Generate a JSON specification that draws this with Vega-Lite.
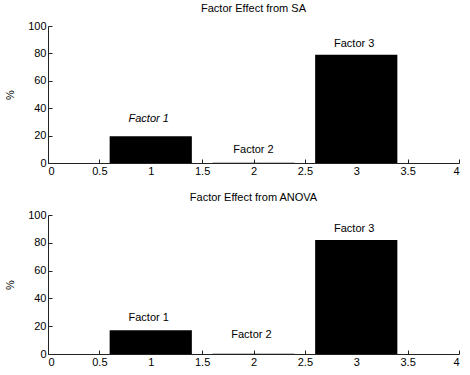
{
  "$schema": "https://vega.github.io/schema/vega-lite/v6.json",
  "padding": {"left": 4, "top": 3, "right": 5, "bottom": 5},
  "background": "white",
  "datasets": {
    "sa": [
      {"factor": "Factor 1", "x0": 0.6, "x1": 1.4, "pct": 19.5, "lx": 0.98, "ly": 32},
      {"factor": "Factor 2", "x0": 1.6, "x1": 2.4, "pct": 0.2, "lx": 2.0, "ly": 9.5},
      {"factor": "Factor 3", "x0": 2.6, "x1": 3.4, "pct": 79, "lx": 2.98, "ly": 87}
    ],
    "anova": [
      {"factor": "Factor 1", "x0": 0.6, "x1": 1.4, "pct": 17, "lx": 0.98, "ly": 26},
      {"factor": "Factor 2", "x0": 1.6, "x1": 2.4, "pct": 0.2, "lx": 1.98, "ly": 14},
      {"factor": "Factor 3", "x0": 2.6, "x1": 3.4, "pct": 82, "lx": 2.98, "ly": 90}
    ]
  },
  "config": {
    "font": "Liberation Sans",
    "view": {"stroke": null},
    "axis": {
      "domainColor": "#222",
      "tickColor": "#222",
      "labelColor": "#000",
      "labelFontSize": 11,
      "labelFont": "Liberation Sans",
      "titleFont": "Liberation Sans",
      "titleFontWeight": "normal",
      "titleFontSize": 11,
      "titleColor": "#000",
      "grid": false,
      "tickSize": -4,
      "labelPadding": 6,
      "labelOverlap": false,
      "domainWidth": 1,
      "tickWidth": 1
    },
    "title": {"font": "Liberation Sans", "fontSize": 11, "fontWeight": "normal", "color": "#000", "offset": 6}
  },
  "spacing": 52,
  "bounds": "flush",
  "vconcat": [
    {
      "width": 411,
      "height": 137,
      "title": "Factor Effect from SA",
      "data": {"name": "sa"},
      "layer": [
        {
          "mark": {"type": "rect", "color": "black"},
          "encoding": {
            "x": {"field": "x0", "type": "quantitative", "scale": {"domain": [0, 4], "nice": false}, "axis": {"values": [0, 0.5, 1, 1.5, 2, 2.5, 3, 3.5, 4], "format": "~g", "title": null, "labelOverlap": false}},
            "x2": {"field": "x1"},
            "y": {"field": "pct", "type": "quantitative", "scale": {"domain": [0, 100], "nice": false}, "axis": {"values": [0, 20, 40, 60, 80, 100], "title": "%", "titlePadding": 12, "labelOverlap": false, "labelFlush": false}},
            "y2": {"datum": 0}
          }
        },
        {
          "transform": [{"filter": "datum.factor == 'Factor 1'"}],
          "mark": {"type": "text", "fontSize": 11, "fontStyle": "italic", "color": "black"},
          "encoding": {
            "x": {"field": "lx", "type": "quantitative", "scale": {"domain": [0, 4], "nice": false}, "axis": {"values": [0, 0.5, 1, 1.5, 2, 2.5, 3, 3.5, 4], "format": "~g", "title": null, "labelOverlap": false}},
            "y": {"field": "ly", "type": "quantitative", "scale": {"domain": [0, 100], "nice": false}, "axis": {"values": [0, 20, 40, 60, 80, 100], "title": "%", "titlePadding": 12, "labelOverlap": false, "labelFlush": false}},
            "text": {"field": "factor"}
          }
        },
        {
          "transform": [{"filter": "datum.factor != 'Factor 1'"}],
          "mark": {"type": "text", "fontSize": 11, "color": "black"},
          "encoding": {
            "x": {"field": "lx", "type": "quantitative", "scale": {"domain": [0, 4], "nice": false}, "axis": {"values": [0, 0.5, 1, 1.5, 2, 2.5, 3, 3.5, 4], "format": "~g", "title": null, "labelOverlap": false}},
            "y": {"field": "ly", "type": "quantitative", "scale": {"domain": [0, 100], "nice": false}, "axis": {"values": [0, 20, 40, 60, 80, 100], "title": "%", "titlePadding": 12, "labelOverlap": false, "labelFlush": false}},
            "text": {"field": "factor"}
          }
        }
      ]
    },
    {
      "width": 411,
      "height": 139,
      "title": "Factor Effect from ANOVA",
      "data": {"name": "anova"},
      "layer": [
        {
          "mark": {"type": "rect", "color": "black"},
          "encoding": {
            "x": {"field": "x0", "type": "quantitative", "scale": {"domain": [0, 4], "nice": false}, "axis": {"values": [0, 0.5, 1, 1.5, 2, 2.5, 3, 3.5, 4], "format": "~g", "title": null, "labelOverlap": false}},
            "x2": {"field": "x1"},
            "y": {"field": "pct", "type": "quantitative", "scale": {"domain": [0, 100], "nice": false}, "axis": {"values": [0, 20, 40, 60, 80, 100], "title": "%", "titlePadding": 12, "labelOverlap": false, "labelFlush": false}},
            "y2": {"datum": 0}
          }
        },
        {
          "mark": {"type": "text", "fontSize": 11, "color": "black"},
          "encoding": {
            "x": {"field": "lx", "type": "quantitative", "scale": {"domain": [0, 4], "nice": false}, "axis": {"values": [0, 0.5, 1, 1.5, 2, 2.5, 3, 3.5, 4], "format": "~g", "title": null, "labelOverlap": false}},
            "y": {"field": "ly", "type": "quantitative", "scale": {"domain": [0, 100], "nice": false}, "axis": {"values": [0, 20, 40, 60, 80, 100], "title": "%", "titlePadding": 12, "labelOverlap": false, "labelFlush": false}},
            "text": {"field": "factor"}
          }
        }
      ]
    }
  ]
}
